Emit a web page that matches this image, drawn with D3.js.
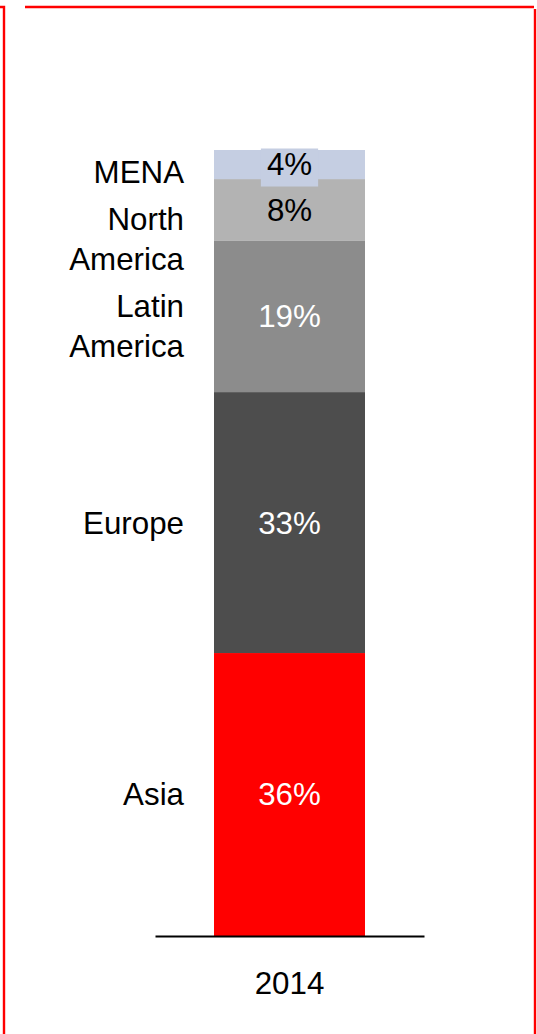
<!DOCTYPE html>
<html>
<head>
<meta charset="utf-8">
<script src="https://cdn.jsdelivr.net/npm/d3@7"></script>
<style>
  html, body { margin: 0; padding: 0; background: #fff; }
  svg { display: block; }
  text { font-family: "Liberation Sans", Arial, sans-serif; }
</style>
</head>
<body>
<svg id="chart" width="537" height="1034"></svg>
<script>
// ---- data (bottom to top) ----
const years = ["2014"];
const regions = ["Asia", "Europe", "Latin America", "North America", "MENA"];
const shares2014 = [36.0, 33.2, 19.3, 7.8, 3.7];
const regionLabelLines = [["Asia"], ["Europe"], ["Latin", "America"], ["North", "America"], ["MENA"]];
const regionColors = ["#ff0000", "#4d4d4d", "#8c8c8c", "#b3b3b3", "#c5cee2"];
const valueTextColors = ["#ffffff", "#ffffff", "#ffffff", "#000000", "#000000"];

const W = 537, H = 1034;
const svg = d3.select("#chart");
const FONT = 31.3, LINE_H = 40;

// frame lines
const frame = svg.append("g").attr("stroke", "#ff0000").attr("stroke-width", 2.4).attr("fill", "none");
frame.append("path").attr("d", `M0,7H4V${H}`);
frame.append("path").attr("d", `M25,7H534`);
frame.append("path").attr("d", `M535,9V${H}`);

// scales
const x = d3.scaleBand().domain(years).range([155, 424]).padding(0.281);
const y = d3.scaleLinear().domain([0, 100]).range([936, 150]);

// stack
const rows = [Object.fromEntries(regions.map((r, i) => [r, shares2014[i]]))];
rows[0].year = years[0];
const series = d3.stack().keys(regions)(rows);

const g = svg.append("g");
series.forEach((s, i) => {
  const d = s[0];
  g.append("rect")
    .attr("x", x(d.data.year))
    .attr("width", x.bandwidth())
    .attr("y", y(d[1]))
    .attr("height", y(d[0]) - y(d[1]))
    .attr("fill", regionColors[i]);
});

// value labels
const cx = x(years[0]) + x.bandwidth() / 2;
series.forEach((s, i) => {
  const d = s[0];
  const cy = (y(d[0]) + y(d[1])) / 2;
  const segH = y(d[0]) - y(d[1]);
  const grp = g.append("g");
  const t = grp.append("text")
    .attr("x", cx).attr("y", cy).attr("dy", "0.35em")
    .attr("text-anchor", "middle")
    .attr("font-size", FONT)
    .attr("fill", valueTextColors[i])
    .text(Math.round(shares2014[i]) + "%");
  const bb = t.node().getBBox();
  if (segH < bb.height) {
    grp.insert("rect", "text")
      .attr("x", bb.x - 6).attr("width", bb.width + 12)
      .attr("y", bb.y + 1).attr("height", bb.height + 3)
      .attr("fill", regionColors[i]);
  }
});

// category labels: top-down collision layout
const order = d3.range(regions.length).reverse(); // top first
let prevBottom = y(100) + 1.7 - 7;
const labelX = x(years[0]) - 30;
order.forEach(i => {
  const d = series[i][0];
  const center = (y(d[0]) + y(d[1])) / 2;
  const n = regionLabelLines[i].length;
  const blockH = n * LINE_H;
  let top = Math.max(center - blockH / 2, prevBottom + 7);
  prevBottom = top + blockH;
  const t = svg.append("text")
    .attr("text-anchor", "end")
    .attr("font-size", FONT)
    .attr("fill", "#000");
  regionLabelLines[i].forEach((line, k) => {
    t.append("tspan")
      .attr("x", labelX)
      .attr("y", top + k * LINE_H + LINE_H / 2)
      .attr("dy", "0.35em")
      .text(line);
  });
});

// axis
const axis = svg.append("g")
  .attr("transform", `translate(0,${y(0)})`)
  .call(d3.axisBottom(x).tickSize(0).tickPadding(36));
axis.select(".domain").attr("stroke", "#000").attr("stroke-width", 2.2);
axis.selectAll("text")
  .attr("font-size", FONT)
  .attr("font-family", "Liberation Sans, Arial, sans-serif")
  .attr("fill", "#000");
</script>
</body>
</html>
